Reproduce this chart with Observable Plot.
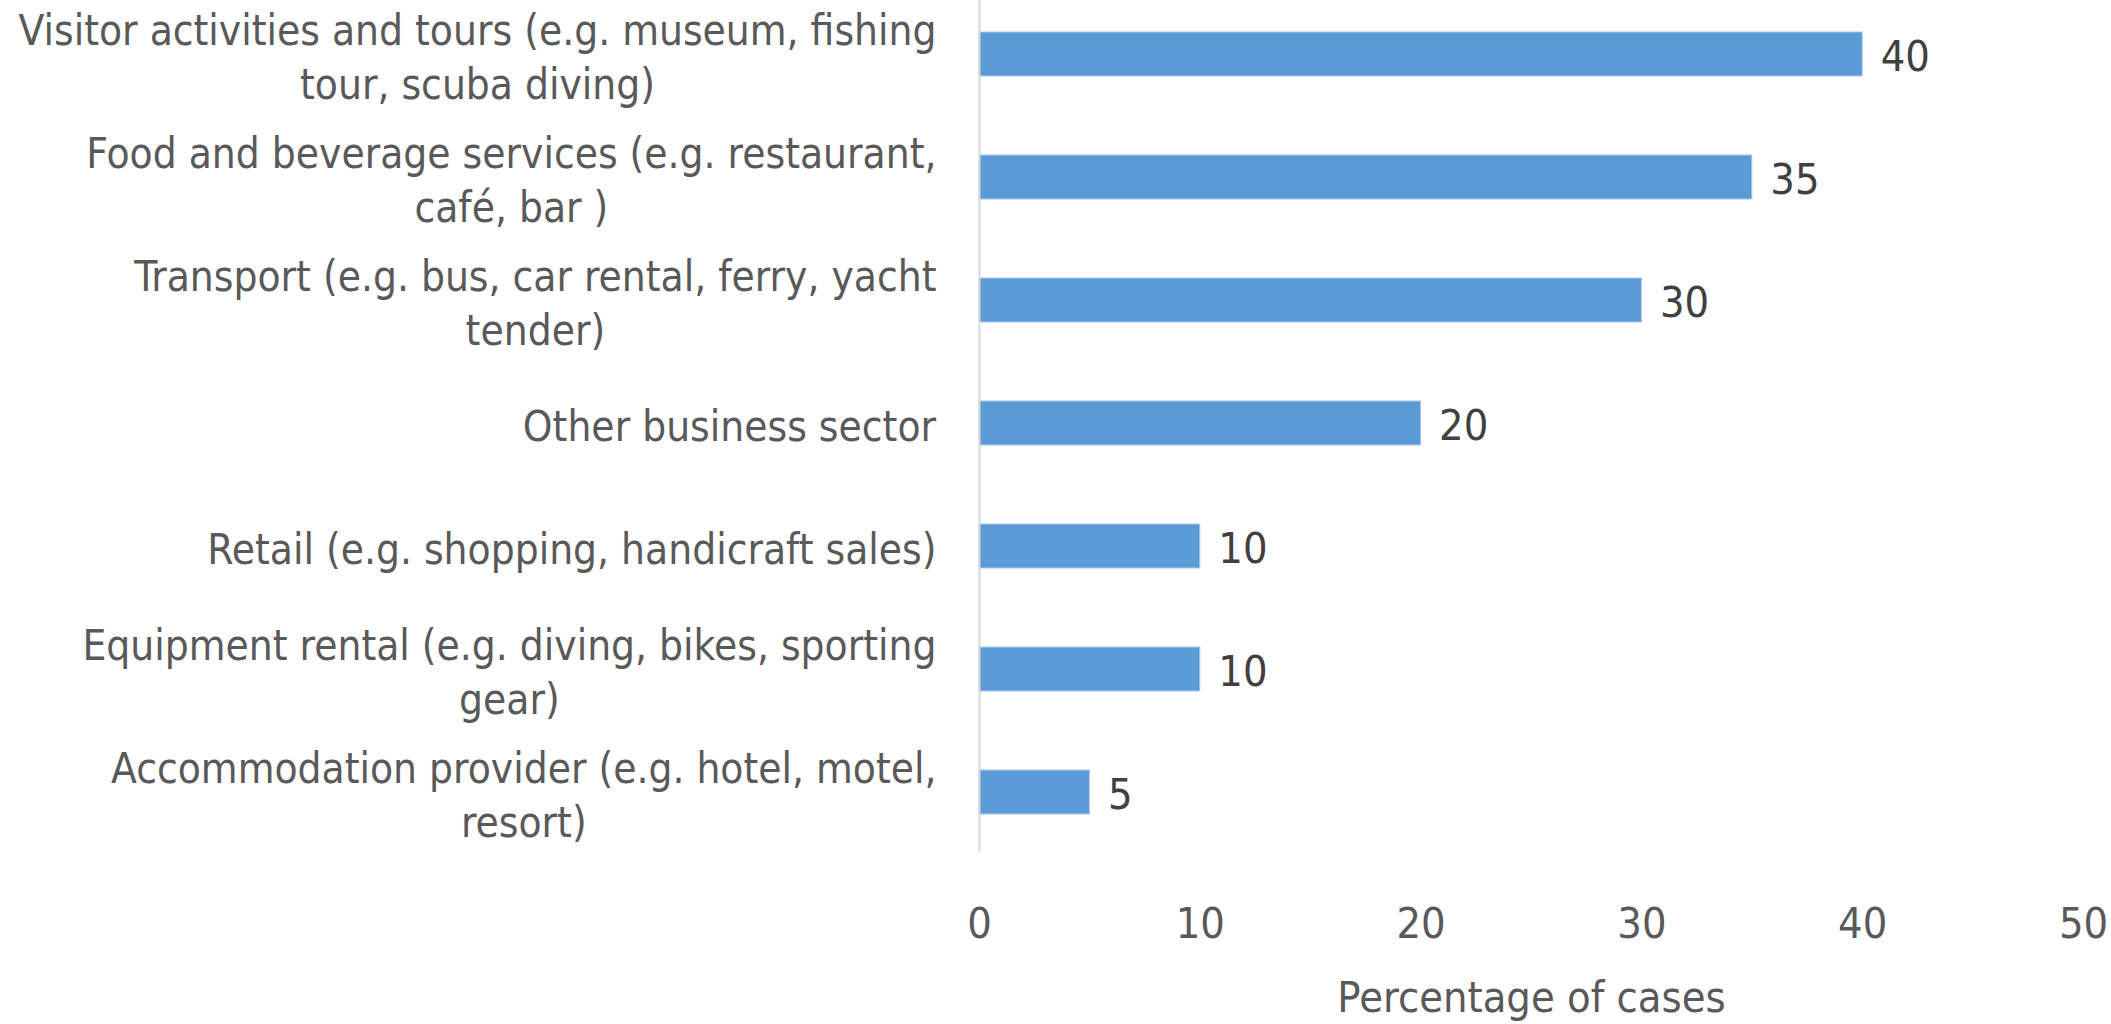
<!DOCTYPE html>
<html>
<head>
<meta charset="utf-8">
<script src="https://cdn.jsdelivr.net/npm/d3@7"></script>
<script src="https://cdn.jsdelivr.net/npm/@observablehq/plot@0.6"></script>
<style>
  html, body { margin: 0; padding: 0; background: #fff; }
  #chart svg { display: block; }
</style>
</head>
<body>
<div id="chart"></div>
<script>
const categories = [
  "Visitor activities and tours (e.g. museum, fishing\ntour, scuba diving)",
  "Food and beverage services (e.g. restaurant,\ncafé, bar )",
  "Transport (e.g. bus, car rental, ferry, yacht\ntender)",
  "Other business sector",
  "Retail (e.g. shopping, handicraft sales)",
  "Equipment rental (e.g. diving, bikes, sporting\ngear)",
  "Accommodation provider (e.g. hotel, motel,\nresort)"
];
const values = [40, 35, 30, 20, 10, 10, 5];
const xTicks = [0, 10, 20, 30, 40, 50];
const xTitle = "Percentage of cases";

const data = categories.map((c, i) => ({category: c, value: values[i]}));

const FONT = "'Liberation Sans Narrow', 'DejaVu Sans Condensed', 'Liberation Sans', sans-serif";
const FS = 43;
const FS_Y = 42;

const chart = Plot.plot({
  width: 2111,
  height: 1024,
  marginLeft: 979,
  marginRight: 28,
  marginTop: 0,
  marginBottom: 172,
  style: {fontFamily: FONT, fontSize: FS + "px", background: "#fff"},
  x: {domain: [0, 50], label: null},
  y: {domain: categories, range: [-9, 855], paddingInner: 0.64, paddingOuter: 0.32, label: null},
  marks: [
    Plot.barX(data, {x: "value", y: "category", fill: "#5B9BD5", stroke: "#A9C8EA", strokeWidth: 1}),
    Plot.ruleX([0], {stroke: "#D9D9D9", strokeWidth: 2}),
    Plot.text(data, {x: "value", y: "category", text: d => String(d.value), textAnchor: "start", dx: 18, dy: 3, fill: "#404040", fontSize: FS}),
    Plot.axisX({ticks: xTicks, tickSize: 0, tickPadding: 55, fontSize: FS, color: "#595959", label: null}),
    Plot.axisY({tickSize: 0, tickPadding: 43, textAnchor: "middle", lineHeight: 1.28, fontSize: FS_Y, color: "#595959", label: null}),
    Plot.text([xTitle], {frameAnchor: "bottom", dy: 146, lineAnchor: "middle", text: d => d, fill: "#595959", fontSize: FS})
  ]
});

document.getElementById("chart").appendChild(chart);

// Right-align each y label block while keeping its lines centred, like the original.
chart.querySelectorAll('g[aria-label="y-axis tick label"] text').forEach(t => {
  const b = t.getBBox();
  const dx = -(b.x + b.width);
  const tr = t.getAttribute("transform") || "";
  t.setAttribute("transform", tr + ` translate(${dx},0)`);
});
</script>
</body>
</html>
